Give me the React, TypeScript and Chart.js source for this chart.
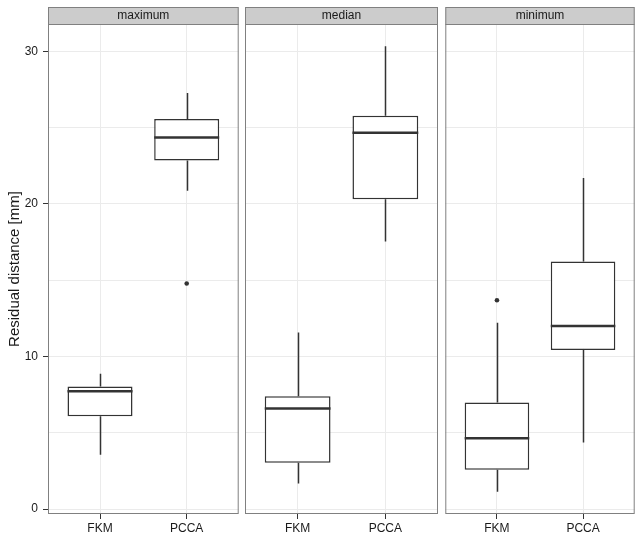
import React, { useEffect, useRef } from 'react';
import { Chart, registerables } from 'chart.js';

Chart.register(...registerables);

// ---- data ----
const facets = ['maximum', 'median', 'minimum'];
const categories = ['FKM', 'PCCA'];
const whiskerLow = [[3.57, 20.87], [1.68, 17.54], [1.14, 4.36]];
const quartile1 = [[6.08, 22.84], [3.04, 20.3], [2.58, 10.42]];
const medians = [[7.73, 24.35], [6.59, 24.66], [4.64, 12.0]];
const quartile3 = [[8.03, 25.56], [7.4, 25.78], [6.98, 16.23]];
const whiskerHigh = [[8.87, 27.27], [11.58, 30.33], [12.22, 21.7]];
const outlierFacet = ['maximum', 'minimum'];
const outlierCategory = ['PCCA', 'FKM'];
const outlierValue = [14.78, 13.69];
const yTicks = [0, 5, 10, 15, 20, 25, 30];
const yTickLabels = ['0', '', '10', '', '20', '', '30'];
const yTitle = 'Residual distance [mm]';

const allValues = [...whiskerLow.flat(), ...whiskerHigh.flat(), ...outlierValue];
const dataMin = Math.min(...allValues);
const dataMax = Math.max(...allValues);
const yPad = (dataMax - dataMin) * 0.05;
const yMin = dataMin - yPad;
const yMax = dataMax + yPad;

const FONT = '"Liberation Sans", Arial, Helvetica, sans-serif';
const DARK = '#333333';
const TEXT = '#1a1a1a';
const GRID = '#ebebeb';
const PANEL_BORDER = '#808080';
const STRIP_H = 17;

const facetDecor = {
  id: 'facetDecor',
  beforeDatasetsDraw(chart: any, _args: any, opts: any) {
    const i = opts.facet;
    const { ctx, scales } = chart;
    const x = scales.x;
    const y = scales.y;
    ctx.save();
    ctx.strokeStyle = DARK;
    ctx.lineWidth = 1.5;
    categories.forEach((_c, k) => {
      const px = Math.round(x.getPixelForValue(k + 1)) + 0.5;
      ctx.beginPath();
      ctx.moveTo(px, y.getPixelForValue(whiskerHigh[i][k]));
      ctx.lineTo(px, y.getPixelForValue(quartile3[i][k]));
      ctx.moveTo(px, y.getPixelForValue(quartile1[i][k]));
      ctx.lineTo(px, y.getPixelForValue(whiskerLow[i][k]));
      ctx.stroke();
    });
    ctx.restore();
  },
  afterDatasetsDraw(chart: any, _args: any, opts: any) {
    const i = opts.facet;
    const { ctx, scales, chartArea: a } = chart;
    const x = scales.x;
    const y = scales.y;
    ctx.save();
    // medians
    ctx.strokeStyle = DARK;
    ctx.lineWidth = 2.5;
    categories.forEach((_c, k) => {
      const half = (x.getPixelForValue(k + 1.375) - x.getPixelForValue(k + 0.625)) / 2;
      const px = x.getPixelForValue(k + 1);
      const py = y.getPixelForValue(medians[i][k]);
      ctx.beginPath();
      ctx.moveTo(px - half, py);
      ctx.lineTo(px + half, py);
      ctx.stroke();
    });
    // panel border
    ctx.strokeStyle = PANEL_BORDER;
    ctx.lineWidth = 1;
    ctx.strokeRect(a.left + 0.5, a.top + 0.5, a.right - a.left - 1, a.bottom - a.top - 1);
    // strip
    const sTop = a.top - STRIP_H;
    ctx.fillStyle = '#cccccc';
    ctx.fillRect(a.left, sTop, a.right - a.left, STRIP_H);
    ctx.strokeRect(a.left + 0.5, sTop + 0.5, a.right - a.left - 1, STRIP_H);
    ctx.fillStyle = TEXT;
    ctx.font = `12px ${FONT}`;
    ctx.textAlign = 'center';
    ctx.textBaseline = 'middle';
    ctx.fillText(facets[i], (a.left + a.right) / 2, sTop + STRIP_H / 2 + 0.5);
    ctx.restore();
  },
};

function FacetChart({ index, left, width }: { index: number; left: number; width: number }) {
  const ref = useRef<HTMLCanvasElement | null>(null);
  useEffect(() => {
    if (!ref.current) return;
    const first = index === 0;
    const facetName = facets[index];
    const outliers = outlierFacet
      .map((f, j) => ({ f, j }))
      .filter((o) => o.f === facetName)
      .map((o) => ({ x: categories.indexOf(outlierCategory[o.j]) + 1, y: outlierValue[o.j] }));

    const chart = new Chart(ref.current, {
      type: 'bar',
      data: {
        datasets: [
          {
            type: 'bar',
            data: categories.map((_c, k) => ({ x: k + 1, y: [quartile1[index][k], quartile3[index][k]] })) as any,
            backgroundColor: '#ffffff',
            borderColor: DARK,
            borderWidth: 1.5,
            borderSkipped: false,
            categoryPercentage: 1,
            barPercentage: 0.75,
            grouped: false,
          } as any,
          {
            type: 'scatter',
            data: outliers,
            pointRadius: 2.3,
            pointBackgroundColor: DARK,
            pointBorderWidth: 0,
            pointHoverRadius: 2.3,
          } as any,
        ],
      },
      options: {
        responsive: false,
        animation: false,
        events: [],
        layout: { padding: { top: 24, right: 0, bottom: 0, left: 0 } },
        plugins: {
          legend: { display: false },
          tooltip: { enabled: false },
          title: { display: false },
          facetDecor: { facet: index },
        } as any,
        scales: {
          x: {
            type: 'linear',
            min: 0.4,
            max: 2.6,
            offset: false,
            afterBuildTicks: (s: any) => {
              s.ticks = categories.map((_c, k) => ({ value: k + 1 }));
            },
            afterFit: (s: any) => {
              s.height = 26;
            },
            border: { display: false },
            grid: {
              offset: false,
              color: GRID,
              lineWidth: 1,
              drawTicks: true,
              tickLength: 5,
              tickColor: DARK,
            },
            ticks: {
              padding: 2,
              color: TEXT,
              font: { family: FONT, size: 12 },
              maxRotation: 0,
              autoSkip: false,
              callback: (_v: any, idx: number) => categories[idx],
            },
          },
          y: {
            type: 'linear',
            min: yMin,
            max: yMax,
            afterBuildTicks: (s: any) => {
              s.ticks = yTicks.map((v) => ({ value: v }));
            },
            afterFit: (s: any) => {
              s.width = first ? 48 : 0;
            },
            border: { display: false },
            grid: {
              color: GRID,
              lineWidth: 1,
              drawTicks: first,
              tickLength: 5,
              tickColor: (c: any) =>
                c.tick && yTickLabels[yTicks.indexOf(c.tick.value)] !== '' ? DARK : 'rgba(0,0,0,0)',
            },
            ticks: {
              display: first,
              padding: 5,
              color: TEXT,
              font: { family: FONT, size: 12 },
              autoSkip: false,
              callback: (_v: any, idx: number) => yTickLabels[idx],
            },
            title: {
              display: first,
              text: yTitle,
              color: TEXT,
              font: { family: FONT, size: 15 },
              padding: { top: 6, bottom: 0 },
            },
          },
        },
      } as any,
      plugins: [facetDecor],
    });
    return () => chart.destroy();
  }, [index]);

  return (
    <canvas
      ref={ref}
      width={width}
      height={540}
      style={{ position: 'absolute', left, top: 0, width, height: 540 }}
    />
  );
}

export default function App() {
  return (
    <div
      style={{
        position: 'absolute',
        left: 0,
        top: 0,
        width: 644,
        height: 540,
        background: '#ffffff',
        overflow: 'hidden',
      }}
    >
      <FacetChart index={0} left={0} width={241} />
      <FacetChart index={1} left={245} width={193} />
      <FacetChart index={2} left={443} width={194} />
    </div>
  );
}
